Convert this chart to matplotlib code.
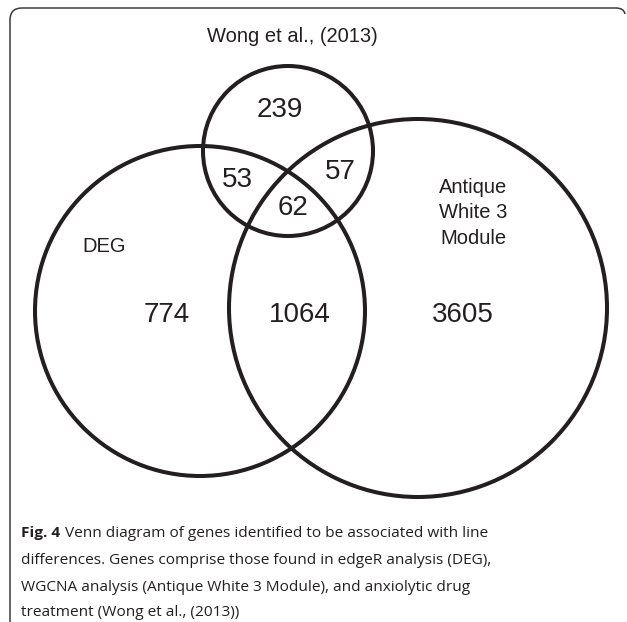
import matplotlib
matplotlib.use("Agg")
import matplotlib.pyplot as plt
import matplotlib.patches as mpatches
import matplotlib.path as mpath
from matplotlib import font_manager

# --- data -------------------------------------------------------------
set_names = ["Wong et al., (2013)", "DEG", "Antique\nWhite 3\nModule"]
region_names = ["wong_only", "wong_deg", "wong_awm", "all_three",
                "deg_only", "deg_awm", "awm_only"]
region_counts = [239, 53, 57, 62, 774, 1064, 3605]

caption_bold = "Fig. 4"
caption_lines = [
    "Venn diagram of genes identified to be associated with line",
    "differences. Genes comprise those found in edgeR analysis (DEG),",
    "WGCNA analysis (Antique White 3 Module), and anxiolytic drug",
    "treatment (Wong et al., (2013))",
]

# --- layout (pixel space, y down) --------------------------------------
circles = [(288, 151, 85), (200, 311, 165), (418, 308, 189)]
set_label_pos = [(292, 37), (104, 246), (473, 213)]
region_pos = {
    "wong_only": (280, 110), "wong_deg": (237, 180), "wong_awm": (340, 172),
    "all_three": (293, 208), "deg_only": (167, 315), "deg_awm": (300, 315),
    "awm_only": (463, 315),
}
ink = "#231f20"

names = {f.name for f in font_manager.fontManager.ttflist}
cap_font = "Liberation Sans Narrow" if "Liberation Sans Narrow" in names else "Open Sans"
cap_size = 13.0 if cap_font == "Liberation Sans Narrow" else 11.1

W, H = 627, 622
fig = plt.figure(figsize=(W / 100, H / 100), dpi=100)
ax = fig.add_axes([0, 0, 1, 1])
ax.set_xlim(0, W)
ax.set_ylim(H, 0)
ax.axis("off")

# frame with rounded top corners, open at the bottom
Path = mpath.Path
verts = [(10, H + 5), (10, 20), (10, 8), (22, 8), (616, 8), (624, 8), (625, 14)]
codes = [Path.MOVETO, Path.LINETO, Path.CURVE3, Path.CURVE3, Path.LINETO,
         Path.CURVE3, Path.CURVE3]
ax.add_patch(mpatches.PathPatch(Path(verts, codes), facecolor="none",
                                edgecolor="#3a3a3a", lw=1.1))

for cx, cy, r in circles:
    ax.add_patch(mpatches.Circle((cx, cy), r, facecolor="none",
                                 edgecolor=ink, lw=2.9))

for name, (x, y) in zip(set_names, set_label_pos):
    ax.text(x, y, name, ha="center", va="center", fontsize=14.5,
            family="Liberation Sans", color=ink, linespacing=1.45)

for name, count in zip(region_names, region_counts):
    x, y = region_pos[name]
    ax.text(x, y, str(count), ha="center", va="center", fontsize=20,
            family="Liberation Sans", color=ink)

# caption
renderer = fig.canvas.get_renderer()
line_y = [537, 564, 591, 616]
tb = ax.text(21, line_y[0], caption_bold, fontsize=cap_size, family=cap_font,
             weight="bold", color=ink, va="baseline")
wb = tb.get_window_extent(renderer).width
ax.text(21 + wb + 5, line_y[0], caption_lines[0], fontsize=cap_size,
        family=cap_font, color=ink, va="baseline")
for y, line in zip(line_y[1:], caption_lines[1:]):
    ax.text(21, y, line, fontsize=cap_size, family=cap_font, color=ink,
            va="baseline")

fig.savefig("out.png", dpi=100)
